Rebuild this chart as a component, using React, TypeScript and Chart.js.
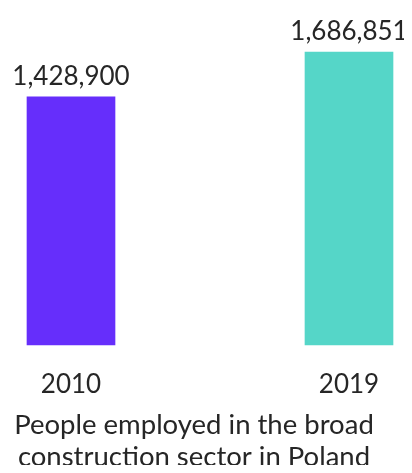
import React, { useEffect, useRef } from "react";
import { Chart, registerables } from "chart.js";

Chart.register(...registerables);

const categories = ["2010", "2019"];
const values = [1428900, 1686851];
const barColors = ["#662EFB", "#55D6C8"];
const titleLines = ["People employed in the broad", "construction sector in Poland"];

const FONT = "Lato";
const TEXT = "#262626";

const valueLabels = {
  id: "valueLabels",
  afterDatasetsDraw(chart: any) {
    const ctx = chart.ctx;
    const meta = chart.getDatasetMeta(0);
    ctx.save();
    ctx.font = `26px ${FONT}`;
    ctx.fillStyle = TEXT;
    ctx.textAlign = "center";
    ctx.textBaseline = "alphabetic";
    meta.data.forEach((el: any, i: number) => {
      ctx.fillText(values[i].toLocaleString("en-US"), el.x, el.y - 12);
    });
    ctx.restore();
  },
};

export default function App() {
  const ref = useRef<HTMLCanvasElement | null>(null);
  useEffect(() => {
    if (!ref.current) return;
    const chart = new Chart(ref.current, {
      type: "bar",
      data: {
        labels: categories,
        datasets: [
          {
            data: values,
            backgroundColor: barColors,
            barThickness: 88,
            clip: false as any,
          },
        ],
      },
      options: {
        animation: false,
        responsive: false,
        layout: { padding: { left: 0, right: 24, top: 15, bottom: 0 } },
        plugins: {
          legend: { display: false },
          tooltip: { enabled: false },
          title: {
            display: true,
            position: "bottom",
            text: titleLines,
            color: TEXT,
            font: { family: FONT, size: 27.5, weight: "normal", lineHeight: "32px" as any },
            padding: { top: 0, bottom: 0 },
          },
        },
        scales: {
          x: {
            offset: false,
            grid: { display: false },
            border: { display: false },
            ticks: {
              color: TEXT,
              font: { family: FONT, size: 26 },
              padding: 16,
            },
            afterFit(scale: any) {
              scale.height = 64;
            },
          },
          y: {
            min: 0,
            max: 1900000,
            display: true,
            grid: { display: false },
            border: { display: false },
            ticks: { display: false },
            afterFit(scale: any) {
              scale.width = 71;
            },
          },
          y2: {
            position: "right",
            display: true,
            grid: { display: false },
            border: { display: false },
            ticks: { display: false },
            afterFit(scale: any) {
              scale.width = 39;
            },
          },
        },
      },
      plugins: [valueLabels],
    });
    return () => chart.destroy();
  }, []);
  return (
    <div style={{ margin: -8, width: 412, height: 473 }}>
      <canvas ref={ref} width={412} height={473} style={{ display: "block" }} />
    </div>
  );
}
